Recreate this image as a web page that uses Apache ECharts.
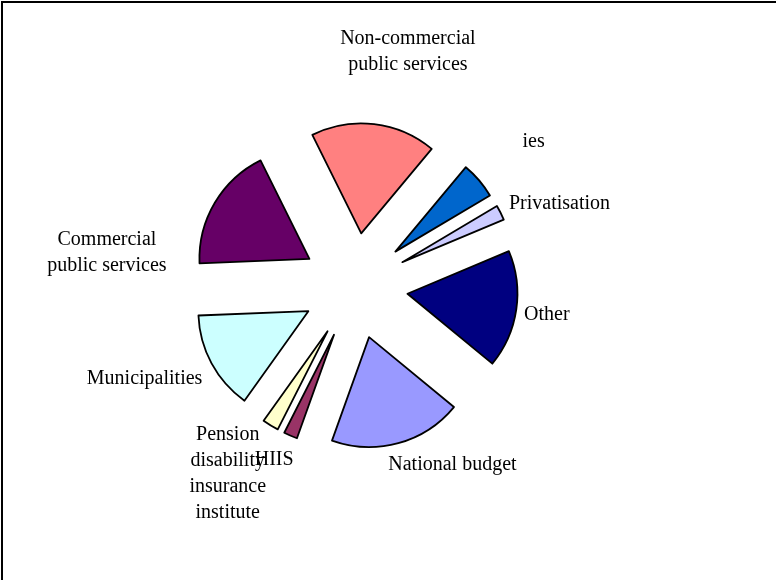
<!DOCTYPE html>
<html>
<head>
<meta charset="utf-8">
<title>Funding sources</title>
<script src="https://cdn.jsdelivr.net/npm/echarts@6/dist/echarts.min.js"></script>
<style>
  html, body { margin: 0; padding: 0; background: #fff; }
  #chart { width: 776px; height: 580px; }
</style>
</head>
<body>
<div id="chart"></div>
<script>
// Source names, in drawing order (clockwise)
const categories = [
  'National budget',
  'HIIS',
  'Pension\ndisability\ninsurance\ninstitute',
  'Municipalities',
  'Commercial\npublic services',
  'Non-commercial\npublic services',
  'ies',
  'Privatisation',
  'Other'
];

// Share of each source, per cent
const shares = [19.5, 2.0, 2.4, 14.5, 18.3, 18.4, 5.4, 2.2, 17.3];

// Slice fills
const colors = ['#9999FF', '#993366', '#FFFFCC', '#CCFFFF', '#660066',
                '#FF8080', '#0066CC', '#CCCCFF', '#000080'];

// Nudges applied to each label after the default outside placement
const labelNudge = [
  { dx: -19, dy: 7 },
  { dx: 14, dy: 10 },
  { dx: -30, dy: 36, align: 'center' },
  { dx: 9, dy: 8 },
  { dx: -90, dy: 58, align: 'center' },
  { dx: 27, dy: -57, align: 'center' },
  { dx: 27, dy: -29 },
  { dx: -10, dy: -2 },
  { dx: -12, dy: 3 }
];

const chart = echarts.init(document.getElementById('chart'), null, { renderer: 'canvas' });

const pieData = categories.map((name, i) => ({
  name: name,
  value: shares[i],
  selected: true,
  itemStyle: { color: colors[i] }
}));

chart.setOption({
  animation: false,
  backgroundColor: '#ffffff',
  graphic: [{
    type: 'rect',
    shape: { x: 2, y: 2, width: 800, height: 600 },
    style: { fill: 'none', stroke: '#000', lineWidth: 2 },
    silent: true
  }],
  series: [{
    type: 'pie',
    center: [355, 286],
    radius: 110,
    startAngle: -39.5,
    clockwise: true,
    selectedMode: 'multiple',
    selectedOffset: 53,
    avoidLabelOverlap: false,
    itemStyle: { borderColor: '#000', borderWidth: 1.8 },
    label: {
      show: true,
      position: 'outside',
      formatter: '{b}',
      color: '#000',
      fontFamily: 'Liberation Serif',
      fontSize: 20,
      lineHeight: 26,
      distanceToLabelLine: 5
    },
    labelLine: { show: false, length: 15, length2: 0 },
    labelLayout: function (params) {
      return labelNudge[params.dataIndex];
    },
    emphasis: { disabled: true },
    data: pieData
  }]
});
</script>
</body>
</html>
